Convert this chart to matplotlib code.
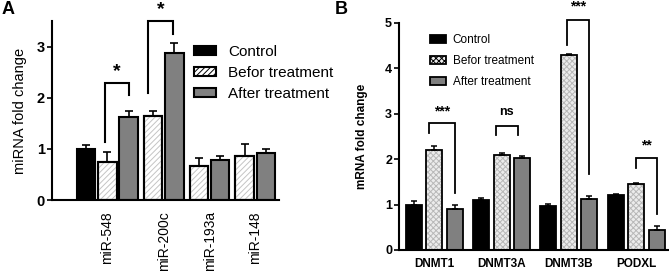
import matplotlib
matplotlib.use("Agg")
import matplotlib.pyplot as plt
from matplotlib.patches import Patch

plt.rcParams['font.family'] = ['Liberation Sans', 'DejaVu Sans']
plt.rcParams['hatch.linewidth'] = 0.7

# ---- panel A data ----
mirnas = ['miR-548', 'miR-200c', 'miR-193a', 'miR-148']
a_control = [1.0, None, None, None]
a_control_err = [0.07, None, None, None]
a_before = [0.75, 1.65, 0.66, 0.86]
a_before_err = [0.18, 0.10, 0.17, 0.23]
a_after = [1.63, 2.87, 0.79, 0.91]
a_after_err = [0.12, 0.20, 0.07, 0.09]

# ---- panel B data ----
genes = ['DNMT1', 'DNMT3A', 'DNMT3B', 'PODXL']
b_control = [1.0, 1.09, 0.97, 1.20]
b_control_err = [0.07, 0.05, 0.05, 0.04]
b_before = [2.20, 2.10, 4.29, 1.45]
b_before_err = [0.08, 0.03, 0.02, 0.02]
b_after = [0.90, 2.02, 1.12, 0.43]
b_after_err = [0.10, 0.04, 0.07, 0.09]

labels = ['Control', 'Befor treatment', 'After treatment']
AFTER_GRAY = '#808080'
NARROW = ['Liberation Sans Narrow', 'Liberation Sans', 'DejaVu Sans']

fig = plt.figure(figsize=(6.69, 2.73), dpi=100)


def style_axes(ax):
    for s in ['top', 'right']:
        ax.spines[s].set_visible(False)
    ax.spines['left'].set_linewidth(1.5)
    ax.spines['bottom'].set_linewidth(1.5)
    ax.tick_params(axis='x', length=0)
    ax.tick_params(axis='y', length=3.5, width=1.2, pad=1.5)


def bracket(ax, x1, x2, y, y1, y2, text, fs, lw, dy):
    ax.plot([x1, x1, x2, x2], [y1, y, y, y2], color='black', lw=lw,
            clip_on=False, solid_joinstyle='miter')
    ax.text((x1 + x2) / 2, y + dy, text, ha='center', va='center',
            fontsize=fs, fontweight='bold', clip_on=False)


# ================= panel A =================
axA = fig.add_axes([52 / 669, 73 / 273, 227 / 669, 179 / 273])
style_axes(axA)
w = 0.87
gap = 0.15
start = 0.0
centers = []
pos_before = []
pos_after = []
for i in range(len(mirnas)):
    slots = []
    if a_control[i] is not None:
        axA.bar(start, a_control[i], w, color='black', edgecolor='black', lw=1.5)
        axA.errorbar(start, a_control[i], yerr=[[0], [a_control_err[i]]],
                     fmt='none', ecolor='black', capsize=3, elinewidth=1.2, capthick=1.2)
        slots.append(start)
        start += 1
    axA.bar(start, a_before[i], w, color='white', edgecolor='black', lw=1.5)
    axA.bar(start, a_before[i], w, color='none', edgecolor='#c4c4c4', lw=0, hatch='//////')
    axA.bar(start, a_before[i], w, color='none', edgecolor='black', lw=1.5)
    axA.errorbar(start, a_before[i], yerr=[[0], [a_before_err[i]]],
                 fmt='none', ecolor='black', capsize=3, elinewidth=1.2, capthick=1.2)
    pos_before.append(start)
    slots.append(start)
    start += 1
    axA.bar(start, a_after[i], w, color=AFTER_GRAY, edgecolor='black', lw=1.5)
    axA.errorbar(start, a_after[i], yerr=[[0], [a_after_err[i]]],
                 fmt='none', ecolor='black', capsize=3, elinewidth=1.2, capthick=1.2)
    pos_after.append(start)
    slots.append(start)
    start += 1 + gap
    centers.append(sum(slots) / len(slots))

axA.set_xlim(-1.6, 9.06)
axA.set_ylim(0, 3.5)
axA.set_yticks([0, 1, 2, 3])
axA.set_yticklabels(['0', '1', '2', '3'], fontsize=10.5, fontweight='bold')
axA.set_xticks(centers)
axA.set_xticklabels(mirnas, rotation=90, fontsize=10)
axA.tick_params(axis='x', pad=8)
axA.set_ylabel('miRNA fold change', fontsize=10.5, labelpad=7)

bracket(axA, pos_before[0] - 0.1, pos_after[0], 2.29, 1.14, 2.05, '*', 14, 1.5, 0.22)
bracket(axA, pos_before[1] - 0.25, pos_after[1] - 0.05, 3.5, 2.1, 3.24, '*', 14, 1.5, 0.22)

hA = [Patch(facecolor='black', edgecolor='black', lw=1.5),
      Patch(facecolor='white', edgecolor='black', lw=1.5, hatch='//////'),
      Patch(facecolor=AFTER_GRAY, edgecolor='black', lw=1.5)]
axA.legend(hA, labels, loc='upper left', bbox_to_anchor=(0.6, 0.9),
           frameon=False, fontsize=11, handlelength=1.4, handleheight=0.6,
           labelspacing=0.45, handletextpad=0.8, borderaxespad=0.0)

fig.text(0.002, 0.995, 'A', fontsize=13, fontweight='bold', va='top', ha='left')

# ================= panel B =================
axB = fig.add_axes([399 / 669, 23 / 273, 269 / 669, 227.3 / 273])
style_axes(axB)
wb = 0.78
group_pitch = 3.28
pb_before = []
pb_after = []
centersB = []
for i in range(len(genes)):
    x0 = i * group_pitch
    axB.bar(x0, b_control[i], wb, color='black', edgecolor='black', lw=1.3)
    axB.bar(x0 + 1, b_before[i], wb, color='#ececec', edgecolor='#b8b8b8', lw=0, hatch='xxxxxx')
    axB.bar(x0 + 1, b_before[i], wb, color='none', edgecolor='black', lw=1.3)
    axB.bar(x0 + 2, b_after[i], wb, color=AFTER_GRAY, edgecolor='black', lw=1.3)
    for dx, val, err in [(0, b_control[i], b_control_err[i]),
                         (1, b_before[i], b_before_err[i]),
                         (2, b_after[i], b_after_err[i])]:
        axB.errorbar(x0 + dx, val, yerr=[[0], [err]], fmt='none', ecolor='black',
                     capsize=2.5, elinewidth=1.1, capthick=1.1)
    pb_before.append(x0 + 1)
    pb_after.append(x0 + 2)
    centersB.append(x0 + 1)

axB.set_xlim(-0.73, 12.39)
axB.set_ylim(0, 5)
axB.set_yticks([0, 1, 2, 3, 4, 5])
axB.set_yticklabels(['0', '1', '2', '3', '4', '5'], fontsize=9, fontweight='bold')
axB.set_xticks(centersB)
axB.set_xticklabels(genes, fontsize=8.5, fontweight='bold', family=NARROW)
axB.tick_params(axis='x', pad=6)
axB.set_ylabel('mRNA fold change', fontsize=8.5, fontweight='bold', labelpad=12)

bracket(axB, pb_before[0] - 0.25, pb_after[0], 2.79, 2.57, 1.25, '***', 10, 1.3, 0.25)
bracket(axB, pb_before[1] - 0.3, pb_after[1] - 0.2, 2.73, 2.53, 2.53, 'ns', 9, 1.3, 0.3)
bracket(axB, pb_before[2] - 0.1, pb_after[2], 5.05, 4.5, 1.68, '***', 10, 1.3, 0.3)
bracket(axB, pb_before[3], pb_after[3], 2.02, 1.8, 0.8, '**', 10, 1.3, 0.27)

hB = [Patch(facecolor='black', edgecolor='black', lw=1.3),
      Patch(facecolor='#ececec', edgecolor='black', lw=1.3, hatch='xxxxxx'),
      Patch(facecolor=AFTER_GRAY, edgecolor='black', lw=1.3)]
axB.legend(hB, labels, loc='upper left', bbox_to_anchor=(0.09, 0.98),
           frameon=False, handlelength=1.3, handleheight=0.7,
           labelspacing=0.75, handletextpad=0.6, borderaxespad=0.2,
           prop={'family': NARROW, 'size': 8.5})

fig.text(0.500, 0.995, 'B', fontsize=13, fontweight='bold', va='top', ha='left')

fig.savefig('out.png', dpi=100)
